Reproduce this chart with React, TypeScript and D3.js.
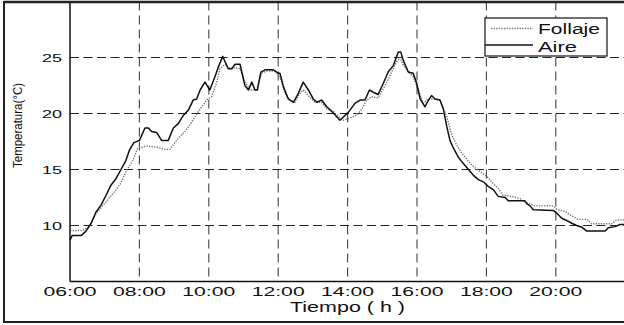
import React from "react";
import * as d3 from "d3";

// Hours of day (decimal) and temperatures (°C)
const aireHours = [6.00, 6.06, 6.32, 6.46, 6.61, 6.75, 6.89, 7.04, 7.18, 7.33, 7.47, 7.61, 7.71, 7.84, 8.00, 8.03, 8.16, 8.26, 8.35, 8.50, 8.64, 8.83, 8.98, 9.12, 9.27, 9.41, 9.55, 9.65, 9.75, 9.89, 10.03, 10.18, 10.27, 10.40, 10.56, 10.66, 10.76, 10.90, 11.04, 11.14, 11.24, 11.33, 11.40, 11.50, 11.62, 11.86, 12.00, 12.05, 12.15, 12.29, 12.44, 12.58, 12.72, 12.87, 13.01, 13.11, 13.25, 13.40, 13.59, 13.78, 13.93, 14.02, 14.21, 14.36, 14.50, 14.63, 14.74, 14.88, 15.03, 15.17, 15.32, 15.46, 15.53, 15.61, 15.75, 15.89, 15.99, 16.09, 16.23, 16.33, 16.42, 16.52, 16.66, 16.76, 16.86, 16.95, 17.05, 17.19, 17.33, 17.48, 17.62, 17.77, 17.91, 18.05, 18.20, 18.34, 18.54, 18.63, 19.11, 19.18, 19.26, 19.35, 19.93, 20.03, 20.17, 20.31, 20.46, 20.60, 20.75, 20.89, 21.42, 21.51, 21.71, 21.85, 21.97];
const aireTemp = [8.7, 9.1, 9.1, 9.5, 10.2, 11.2, 11.8, 12.7, 13.6, 14.2, 15.0, 15.8, 16.7, 17.4, 17.6, 17.8, 18.7, 18.7, 18.4, 18.3, 17.6, 17.6, 18.7, 19.1, 19.85, 20.3, 21.2, 21.3, 22.1, 22.8, 22.1, 23.3, 24.1, 25.1, 24.0, 24.0, 24.4, 24.4, 22.5, 22.1, 22.8, 22.1, 22.1, 23.7, 23.9, 23.9, 23.6, 23.6, 22.4, 21.3, 21.0, 21.8, 22.8, 22.1, 21.3, 21.0, 21.2, 20.6, 20.05, 19.4, 19.85, 20.1, 20.9, 21.2, 21.2, 22.1, 21.9, 21.7, 22.7, 23.7, 24.3, 25.5, 25.5, 24.7, 23.7, 23.6, 22.7, 21.3, 20.6, 21.2, 21.6, 21.3, 21.2, 20.4, 18.8, 17.6, 16.9, 16.1, 15.55, 15.0, 14.5, 14.1, 13.9, 13.5, 13.2, 12.6, 12.5, 12.2, 12.2, 11.9, 11.75, 11.4, 11.35, 11.1, 10.65, 10.45, 10.2, 10.0, 9.85, 9.5, 9.5, 9.8, 9.9, 10.1, 10.1];

const follajeHours = [6.00, 6.32, 6.52, 6.61, 6.75, 7.04, 7.33, 7.47, 7.61, 7.81, 7.95, 8.11, 8.19, 8.50, 8.69, 8.88, 9.12, 9.31, 9.46, 9.60, 9.75, 9.94, 10.08, 10.23, 10.32, 10.47, 10.61, 10.76, 10.90, 11.04, 11.19, 11.38, 11.52, 11.67, 11.91, 12.05, 12.20, 12.34, 12.48, 12.58, 12.72, 12.87, 13.06, 13.25, 13.40, 13.59, 13.69, 13.88, 14.07, 14.26, 14.41, 14.55, 14.69, 14.88, 15.08, 15.22, 15.41, 15.51, 15.61, 15.75, 15.89, 16.04, 16.18, 16.33, 16.52, 16.66, 16.76, 16.86, 17.00, 17.14, 17.33, 17.58, 17.77, 18.01, 18.15, 18.34, 18.48, 18.73, 18.97, 19.11, 19.40, 19.93, 20.03, 20.27, 20.41, 20.65, 20.89, 21.03, 21.61, 21.75, 21.97];
const follajeTemp = [9.55, 9.55, 9.8, 10.2, 11.1, 12.1, 13.2, 13.8, 14.8, 15.8, 16.9, 17.0, 17.1, 17.0, 16.8, 16.8, 17.8, 18.4, 19.0, 19.7, 20.4, 21.2, 21.5, 22.8, 24.0, 24.4, 24.0, 24.1, 24.0, 22.8, 22.1, 22.1, 23.6, 23.8, 23.8, 23.3, 21.8, 21.2, 21.0, 21.6, 22.1, 21.6, 21.0, 21.0, 20.4, 20.2, 19.85, 19.4, 19.6, 19.85, 20.4, 21.2, 21.5, 21.4, 22.5, 23.4, 24.6, 25.0, 24.3, 23.7, 23.3, 22.1, 20.9, 21.3, 21.3, 21.2, 20.4, 19.7, 18.1, 17.2, 16.3, 15.4, 14.9, 14.4, 13.9, 13.3, 12.7, 12.6, 12.4, 12.1, 11.75, 11.75, 11.45, 11.25, 10.95, 10.55, 10.55, 10.15, 10.15, 10.5, 10.5];

const xTicks = [6, 8, 10, 12, 14, 16, 18, 20];
const xTickLabels = ["06:00", "08:00", "10:00", "12:00", "14:00", "16:00", "18:00", "20:00"];
const yTicks = [10, 15, 20, 25];
const seriesNames = ["Follaje", "Aire"];

const FONT = "'Liberation Sans', Arial, Helvetica, sans-serif";

export default function App() {
  const W = 624;
  const H = 325;
  const left = 70;
  const bottom = 281.5;
  const top = 1.5;
  const x = d3.scaleLinear().domain([6, 22]).range([left, left + 16 * 34.7]);
  const y = d3.scaleLinear().domain([5, 30]).range([bottom, top]);

  const aire = aireHours.map((h, i) => [h, aireTemp[i]] as [number, number]);
  const follaje = follajeHours.map((h, i) => [h, follajeTemp[i]] as [number, number]);
  const line = d3
    .line<[number, number]>()
    .x((d) => x(d[0]))
    .y((d) => y(d[1]));

  return (
    <svg
      width={W}
      height={H}
      style={{ position: "absolute", left: 0, top: 0, background: "#fff" }}
    >
      <rect x={0} y={0} width={W} height={H} fill="#fff" />
      {/* outer figure frame */}
      <rect x={4} y={2} width={W + 20} height={320} fill="none" stroke="#222" strokeWidth={2} />

      {/* grid */}
      {xTicks.slice(1).map((t) => (
        <line
          key={"gx" + t}
          x1={x(t)}
          x2={x(t)}
          y1={top}
          y2={bottom}
          stroke="#444"
          strokeWidth={1.1}
          strokeDasharray="9,5"
        />
      ))}
      {yTicks.map((t) => (
        <line
          key={"gy" + t}
          x1={left}
          x2={W}
          y1={y(t)}
          y2={y(t)}
          stroke="#222"
          strokeWidth={1.1}
          strokeDasharray="9,4.5"
        />
      ))}

      {/* series */}
      <path d={line(follaje) || ""} fill="none" stroke="#707070" strokeWidth={1.4} strokeDasharray="1.3,1.3" />
      <path d={line(aire) || ""} fill="none" stroke="#111" strokeWidth={1.5} strokeLinejoin="round" />

      {/* axes */}
      <line x1={left} x2={left} y1={top} y2={bottom} stroke="#111" strokeWidth={1.5} />
      <line x1={left} x2={W} y1={bottom} y2={bottom} stroke="#111" strokeWidth={1.5} />
      <line x1={4} x2={W} y1={2} y2={2} stroke="#222" strokeWidth={2.5} />

      {/* y tick labels */}
      {yTicks.map((t) => (
        <text
          key={"ty" + t}
          x={42}
          y={y(t) + 4}
          fontFamily={FONT}
          fontSize={11}
          textLength={20}
          lengthAdjust="spacingAndGlyphs"
          fill="#111"
        >
          {String(t)}
        </text>
      ))}

      {/* x tick labels */}
      {xTicks.map((t, i) => (
        <text
          key={"tx" + t}
          x={x(t) - 26.5}
          y={295.5}
          fontFamily={FONT}
          fontSize={13}
          textLength={53}
          lengthAdjust="spacingAndGlyphs"
          fill="#111"
        >
          {xTickLabels[i]}
        </text>
      ))}

      {/* axis titles */}
      <text
        x={290}
        y={311.5}
        fontFamily={FONT}
        fontSize={14}
        textLength={115}
        lengthAdjust="spacingAndGlyphs"
        fill="#111"
      >
        Tiempo ( h )
      </text>
      <text
        transform="translate(21.5,168) rotate(-90)"
        x={0}
        y={0}
        fontFamily={FONT}
        fontSize={13}
        textLength={85}
        lengthAdjust="spacingAndGlyphs"
        fill="#111"
      >
        Temperatura(°C)
      </text>

      {/* legend */}
      <rect x={485} y={18} width={122} height={38} fill="#fff" stroke="#111" strokeWidth={1.2} />
      <line x1={491} x2={533} y1={28.5} y2={28.5} stroke="#707070" strokeWidth={1.4} strokeDasharray="1.3,1.3" />
      <line x1={485} x2={533} y1={45} y2={45} stroke="#111" strokeWidth={1.5} />
      <text x={538} y={33.5} fontFamily={FONT} fontSize={14} textLength={62} lengthAdjust="spacingAndGlyphs" fill="#111">
        {seriesNames[0]}
      </text>
      <text x={538} y={51.5} fontFamily={FONT} fontSize={14} textLength={39} lengthAdjust="spacingAndGlyphs" fill="#111">
        {seriesNames[1]}
      </text>
    </svg>
  );
}
